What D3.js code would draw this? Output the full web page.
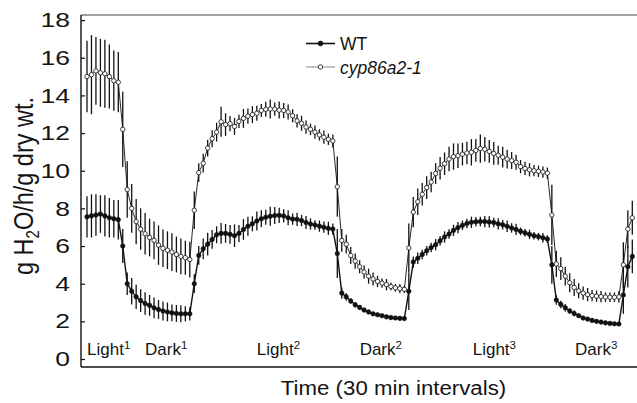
<!DOCTYPE html>
<html><head><meta charset="utf-8">
<script src="https://cdn.jsdelivr.net/npm/d3@7"></script>
<style>html,body{margin:0;padding:0;background:#fff}svg{display:block}</style>
</head><body>
<svg id="c" width="637" height="403"></svg>
<script>
// ---- data (30-min intervals) ----
const seriesNames = ["WT", "cyp86a2-1"];
const wt = [7.55,7.6,7.65,7.7,7.6,7.5,7.45,7.4,
 6.0,
 4.0,3.6,3.3,3.1,2.95,2.85,2.72,2.63,2.55,2.5,2.45,2.42,2.4,2.4,2.4,
 4.0,5.5,5.85,6.1,6.35,6.6,6.67,6.67,6.62,6.55,6.67,6.88,7.05,7.18,7.33,7.45,
 7.53,7.58,7.62,7.63,7.6,7.5,7.43,7.42,7.35,7.25,7.17,7.12,7.06,7.0,6.94,6.9,
 5.6,
 3.5,3.3,3.08,2.88,2.74,2.6,2.5,2.4,2.35,2.3,2.24,2.2,2.18,2.16,2.15,
 3.6,5.15,5.35,5.55,5.75,5.92,6.07,6.28,6.48,6.64,6.83,6.98,7.1,7.2,7.26,7.29,
 7.3,7.3,7.28,7.25,7.18,7.13,7.05,6.96,6.88,6.78,6.7,6.62,6.55,6.5,6.44,6.37,
 5.0,
 3.13,2.9,2.72,2.55,2.42,2.3,2.18,2.12,2.05,2.0,1.96,1.92,1.89,1.87,1.86,
 3.4,4.9,5.45];
const wtErr = [1.1,1.15,1.1,1.0,1.1,1.05,1.0,1.05,
 0.9,
 0.6,0.7,0.65,0.6,0.6,0.55,0.55,0.5,0.5,0.5,0.45,0.45,0.45,0.4,0.35,
 0.5,0.5,0.55,0.6,0.5,0.45,0.55,0.5,0.5,0.6,0.45,0.55,0.5,0.4,0.5,0.45,
 0.4,0.5,0.45,0.4,0.35,0.4,0.3,0.35,0.3,0.35,0.3,0.25,0.3,0.3,0.35,0.3,
 1.3,
 0.3,0.2,0.15,0.15,0.12,0.12,0.12,0.1,0.1,0.1,0.1,0.1,0.1,0.1,0.1,
 1.0,
 0.3,0.3,0.25,0.25,0.25,0.3,0.25,0.3,0.25,0.3,0.3,0.25,0.25,0.3,0.25,0.25,
 0.3,0.3,0.25,0.3,0.25,0.3,0.25,0.3,0.2,0.2,0.25,0.2,0.2,0.25,0.2,
 1.0,
 0.25,0.2,0.2,0.15,0.15,0.12,0.12,0.1,0.1,0.1,0.1,0.1,0.1,0.1,0.1,
 1.0,1.1,0.9];
const mut = [15.0,15.1,15.3,15.2,15.15,15.0,14.78,14.7,
 12.2,
 9.0,8.0,7.3,6.9,6.65,6.45,6.3,6.05,5.88,5.78,5.68,5.55,5.45,5.38,5.28,
 7.9,9.9,10.4,11.2,11.7,12.05,12.6,12.45,12.5,12.35,12.62,12.78,12.9,12.98,13.05,13.2,
 13.26,13.28,13.27,13.22,13.2,13.12,12.92,12.65,12.52,12.32,12.2,12.05,11.9,11.78,11.67,11.58,
 9.15,
 6.3,6.1,5.5,5.2,4.9,4.62,4.4,4.25,4.12,4.03,3.95,3.85,3.78,3.74,3.7,
 5.9,7.8,8.35,8.75,9.1,9.4,9.85,10.13,10.37,10.62,10.75,10.8,10.88,10.94,10.98,11.08,
 11.18,11.14,11.03,10.92,10.82,10.72,10.62,10.54,10.45,10.22,10.12,10.05,10.0,9.97,9.93,9.87,
 7.65,
 5.05,4.8,4.4,4.05,3.8,3.62,3.5,3.42,3.37,3.34,3.31,3.29,3.28,3.28,3.3,
 5.0,6.9,7.5];
const mutErr = [1.9,2.1,1.8,1.8,1.8,1.7,1.6,1.6,
 2.0,
 1.5,1.3,1.2,1.1,1.1,1.0,1.0,1.05,1.0,1.0,1.0,0.95,0.95,0.9,0.95,
 1.0,
 0.5,0.5,0.45,0.45,0.5,0.8,0.6,0.4,0.45,0.35,0.5,0.4,0.45,0.4,0.35,0.4,
 0.5,0.35,0.45,0.4,0.4,0.35,0.35,0.4,0.35,0.3,0.35,0.3,0.35,0.3,0.35,
 1.6,
 0.6,0.5,0.45,0.4,0.35,0.35,0.4,0.35,0.3,0.25,0.3,0.2,0.2,0.25,0.2,
 1.3,
 0.8,0.7,0.6,0.6,0.55,0.55,0.6,0.6,0.65,0.7,0.65,0.6,0.6,0.7,0.6,0.75,
 0.65,0.6,0.6,0.5,0.55,0.5,0.45,0.4,0.35,0.35,0.35,0.3,0.3,0.3,0.3,
 1.6,
 0.7,0.6,0.5,0.5,0.45,0.4,0.35,0.35,0.3,0.3,0.3,0.25,0.25,0.25,0.3,
 1.2,1.0,0.9];
const yTicks = [0,2,4,6,8,10,12,14,16,18];
const periodNames = ["Light","Dark","Light","Dark","Light","Dark"];
const periodNums = ["1","1","2","2","3","3"];
const periodStart = [0, 13, 38, 61, 86.3, 109.2]; // interval index where label begins
const xTitle = "Time (30 min intervals)";

// ---- layout ----
const svg = d3.select("#c");
const FONT = "'Liberation Sans', Arial, Helvetica, sans-serif";
const TXT = "#141414";
const L = 81, R = 637, T = 15, B = 367;
const n = wt.length;
const x = d3.scaleLinear().domain([0, n - 1]).range([87, 632.3]);
const y = d3.scaleLinear().domain([0, 18]).range([359, 20.1]);
const idx = d3.range(n);

// frame
svg.append("line").attr("x1", L).attr("x2", R).attr("y1", T).attr("y2", T)
  .attr("stroke", "#808080").attr("stroke-width", 1.6);
svg.append("line").attr("x1", L).attr("x2", R).attr("y1", B).attr("y2", B)
  .attr("stroke", "#111").attr("stroke-width", 1.4);
svg.append("line").attr("x1", L).attr("x2", L).attr("y1", T).attr("y2", B)
  .attr("stroke", "#111").attr("stroke-width", 1.4);

// y axis (inward ticks)
const ya = svg.append("g").attr("transform", `translate(${L},0)`)
  .call(d3.axisLeft(y).tickValues(yTicks).tickSize(-4).tickFormat(d3.format("d")));
ya.select(".domain").remove();
ya.selectAll(".tick line").attr("stroke", "#111").attr("stroke-width", 1.2);
ya.selectAll(".tick text")
  .attr("x", 0).attr("dy", "0.34em")
  .attr("transform", "translate(-11,0) scale(1.36,1)")
  .attr("font-family", FONT).attr("font-size", 19.5).attr("fill", TXT);

// series drawing
function drawSeries(vals, errs, opts) {
  const g = svg.append("g");
  g.selectAll("line.err").data(idx).join("line")
    .attr("x1", i => x(i)).attr("x2", i => x(i))
    .attr("y1", i => y(vals[i] - errs[i])).attr("y2", i => y(vals[i] + errs[i]))
    .attr("stroke", "#111").attr("stroke-width", 1.3);
  g.append("path").datum(idx)
    .attr("d", d3.line().x(i => x(i)).y(i => y(vals[i])))
    .attr("fill", "none").attr("stroke", "#111").attr("stroke-width", opts.lw);
  g.selectAll("circle").data(idx).join("circle")
    .attr("cx", i => x(i)).attr("cy", i => y(vals[i])).attr("r", opts.r)
    .attr("fill", opts.fill).attr("stroke", "#111").attr("stroke-width", opts.sw);
}
drawSeries(mut, mutErr, {lw: 0.9, r: 2.2, fill: "#fff", sw: 0.8});
drawSeries(wt, wtErr, {lw: 1.4, r: 2.3, fill: "#111", sw: 0.5});

// period labels
periodNames.forEach((nm, k) => {
  const t = svg.append("text").attr("x", x(periodStart[k])).attr("y", 355)
    .attr("font-family", FONT).attr("font-size", 17).attr("fill", TXT);
  t.append("tspan").text(nm);
  t.append("tspan").attr("font-size", 11.5).attr("dy", -6).text(periodNums[k]);
});

// legend
const lg = svg.append("g");
[{y: 43.5, fill: "#111", stroke: "#111", lw: 1.6, name: seriesNames[0], it: "normal", r: 2.4},
 {y: 67, fill: "#fff", stroke: "#777", lw: 0.9, name: seriesNames[1], it: "italic", r: 2.2}]
.forEach(d => {
  lg.append("line").attr("x1", 306).attr("x2", 335).attr("y1", d.y).attr("y2", d.y)
    .attr("stroke", d.stroke).attr("stroke-width", d.lw);
  lg.append("circle").attr("cx", 320.5).attr("cy", d.y).attr("r", d.r)
    .attr("fill", d.fill).attr("stroke", "#111").attr("stroke-width", 0.8);
  lg.append("text").attr("x", 340).attr("y", d.y + 6.5)
    .attr("font-family", FONT).attr("font-size", 17.5).attr("font-style", d.it)
    .attr("fill", TXT).text(d.name);
});

// axis titles
svg.append("text").attr("transform", "translate(393.5,395) scale(1.06,1)")
  .attr("text-anchor", "middle").attr("font-family", FONT).attr("font-size", 21)
  .attr("fill", TXT).text(xTitle);

const yt = svg.append("text").attr("transform", "translate(33,186) scale(1.19,1) rotate(-90)")
  .attr("text-anchor", "middle").attr("font-family", FONT).attr("font-size", 23.5)
  .attr("fill", TXT);
yt.append("tspan").text("g H");
yt.append("tspan").attr("font-size", 15).attr("dy", 5).text("2");
yt.append("tspan").attr("dy", -5).text("O/h/g dry wt.");
</script>
</body></html>
